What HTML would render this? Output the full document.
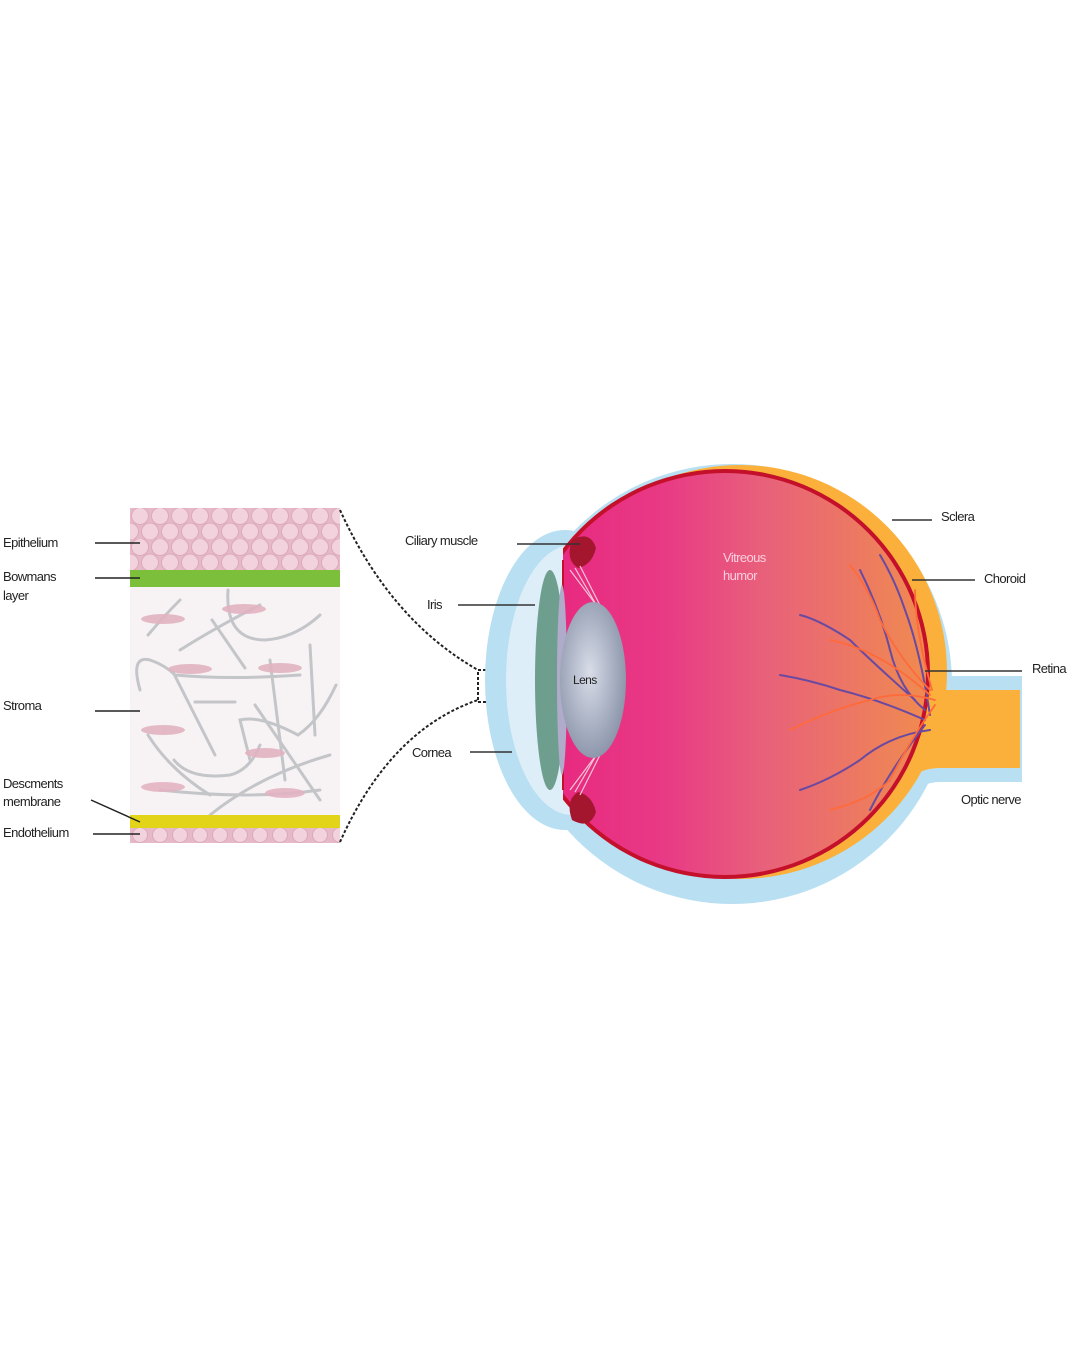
<!DOCTYPE html>
<html><head><meta charset="utf-8"><style>
html,body{margin:0;padding:0;background:#fff;}
svg{display:block;font-family:"Liberation Sans",sans-serif;}
</style></head><body>
<svg width="1080" height="1350" viewBox="0 0 1080 1350" xmlns="http://www.w3.org/2000/svg">
<defs>
<pattern id="cells" x="130" y="508" width="20" height="31" patternUnits="userSpaceOnUse">
<rect width="20" height="31" fill="#e6b9c8"/>
<circle cx="10" cy="8" r="8.5" fill="#f2d3dd" stroke="#dca9bb" stroke-width="1"/>
<circle cx="0" cy="23.5" r="8.5" fill="#f2d3dd" stroke="#dca9bb" stroke-width="1"/>
<circle cx="20" cy="23.5" r="8.5" fill="#f2d3dd" stroke="#dca9bb" stroke-width="1"/>
</pattern>
<pattern id="cells2" x="130" y="826" width="20" height="17" patternUnits="userSpaceOnUse">
<rect width="20" height="17" fill="#e6b9c8"/>
<circle cx="10" cy="9" r="7.5" fill="#f2d3dd" stroke="#dca9bb"/>
</pattern>
<linearGradient id="vit" x1="0" x2="1" y1="0" y2="0">
<stop offset="0" stop-color="#e8247f"/>
<stop offset="0.35" stop-color="#e83a85"/>
<stop offset="0.6" stop-color="#e8617a"/>
<stop offset="1" stop-color="#f08a50"/>
</linearGradient>
<radialGradient id="lens" cx="0.45" cy="0.45" r="0.6">
<stop offset="0" stop-color="#d8dde8"/>
<stop offset="1" stop-color="#8891a8"/>
</radialGradient>
<clipPath id="vc"><rect x="563" y="440" width="400" height="480"/></clipPath>
</defs>

<!-- Left panel -->
<rect x="130" y="508" width="210" height="62" fill="url(#cells)"/>
<rect x="130" y="570" width="210" height="17" fill="#7cbf3a"/>
<rect x="130" y="587" width="210" height="228" fill="#f7f3f4"/>
<g fill="none" stroke="#b8babf" stroke-width="3" stroke-linecap="round" opacity="0.8">
<path d="M148 635 Q165 615 180 600"/>
<path d="M180 650 Q220 625 260 605"/>
<path d="M228 590 Q225 640 265 640 Q295 638 320 615"/>
<path d="M212 620 L245 668"/>
<path d="M140 690 Q130 655 150 660 Q165 665 175 675 Q230 680 300 675"/>
<path d="M173 672 L215 755"/>
<path d="M195 702 L235 702"/>
<path d="M270 660 L285 780"/>
<path d="M310 645 L315 735"/>
<path d="M336 685 Q320 720 298 735 Q260 715 240 720 L250 760"/>
<path d="M148 735 Q170 770 210 795"/>
<path d="M174 760 Q190 780 230 775 Q250 770 260 745"/>
<path d="M210 815 Q260 775 330 755"/>
<path d="M160 790 Q250 800 320 790"/>
<path d="M255 705 L320 800"/>
</g>
<g fill="#e3b3c2" opacity="0.9">
<ellipse cx="163" cy="619" rx="22" ry="5"/>
<ellipse cx="244" cy="609" rx="22" ry="5"/>
<ellipse cx="190" cy="669" rx="22" ry="5"/>
<ellipse cx="280" cy="668" rx="22" ry="5"/>
<ellipse cx="163" cy="730" rx="22" ry="5"/>
<ellipse cx="265" cy="753" rx="20" ry="5"/>
<ellipse cx="163" cy="787" rx="22" ry="5"/>
<ellipse cx="285" cy="793" rx="20" ry="5"/>
</g>
<rect x="130" y="815" width="210" height="13" fill="#e2d419"/>
<rect x="130" y="828" width="210" height="15" fill="url(#cells2)"/>

<!-- dashed connectors -->
<g fill="none" stroke="#222" stroke-width="2" stroke-dasharray="3,2">
<path d="M340 510 Q390 620 478 670"/>
<path d="M340 842 Q390 730 478 700"/>
<rect x="478" y="670" width="28" height="32"/>
</g>

<!-- left labels -->
<g font-size="13" fill="#222" letter-spacing="-0.6">
<text x="3" y="547">Epithelium</text>
<text x="3" y="581">Bowmans</text>
<text x="3" y="600">layer</text>
<text x="3" y="710">Stroma</text>
<text x="3" y="788">Descments</text>
<text x="3" y="806">membrane</text>
<text x="3" y="837">Endothelium</text>
</g>
<g stroke="#222" stroke-width="1.5">
<line x1="95" y1="543" x2="140" y2="543"/>
<line x1="95" y1="578" x2="140" y2="578"/>
<line x1="95" y1="711" x2="140" y2="711"/>
<line x1="91" y1="800" x2="140" y2="822"/>
<line x1="93" y1="834" x2="140" y2="834"/>
</g>

<!-- Eye -->
<path d="M900 676 L1022 676 L1022 782 L940 782 Q920 782 905 800 Z" fill="#b9dff2"/>
<circle cx="732" cy="684" r="220" fill="#b9dff2"/>
<!-- choroid -->
<circle cx="740" cy="672" r="207" fill="#fbb03b"/>
<path d="M900 690 L1020 690 L1020 768 L940 768 Q925 768 915 775 Z" fill="#fbb03b"/>
<ellipse cx="565" cy="680" rx="80" ry="150" fill="#b9dff2"/>
<ellipse cx="572" cy="680" rx="66" ry="135" fill="#ddeef8"/>
<!-- vitreous -->
<g clip-path="url(#vc)">
<circle cx="725" cy="674" r="205" fill="#c4102a"/>
<circle cx="725" cy="674" r="201" fill="url(#vit)"/>
</g>
<line x1="563" y1="560" x2="563" y2="790" stroke="#c4102a" stroke-width="2"/>
<!-- ciliary -->
<path d="M572 540 Q590 530 596 548 Q592 565 578 568 Q565 560 572 540Z" fill="#a3162e"/>
<path d="M572 820 Q590 830 596 812 Q592 795 578 792 Q565 800 572 820Z" fill="#a3162e"/>
<g stroke="#f8c6d6" stroke-width="1.2" fill="none">
<path d="M570 570 L600 610"/><path d="M575 568 L605 620"/><path d="M580 566 L610 625"/>
<path d="M570 790 L600 750"/><path d="M575 792 L605 740"/><path d="M580 795 L610 735"/>
</g>
<!-- iris -->
<ellipse cx="550" cy="680" rx="15" ry="110" fill="#6e9e8e"/>
<ellipse cx="562" cy="680" rx="5" ry="95" fill="#b0aacb"/>
<!-- lens -->
<ellipse cx="593" cy="680" rx="33" ry="78" fill="url(#lens)"/>
<text x="573" y="684" font-size="12" fill="#222" letter-spacing="-0.6">Lens</text>
<!-- vessels -->
<g fill="none" stroke-linecap="round">
<g stroke="#6a4aa0" stroke-width="2">
<path d="M930 730 Q890 735 860 760 Q830 780 800 790"/>
<path d="M925 720 Q880 700 840 690 Q810 680 780 675"/>
<path d="M925 710 Q900 690 890 650 Q880 610 860 570"/>
<path d="M915 700 Q870 660 850 640 Q820 620 800 615"/>
<path d="M925 725 Q890 770 870 810"/>
<path d="M930 715 Q920 650 905 610 Q895 580 880 555"/>
</g>
<g stroke="#ff6a3a" stroke-width="1.8">
<path d="M935 700 Q900 690 870 700 Q830 710 790 730"/>
<path d="M930 690 Q900 660 880 620 Q870 590 850 565"/>
<path d="M935 705 Q910 740 890 780 Q870 800 830 810"/>
<path d="M930 695 Q880 650 830 640"/>
<path d="M932 690 Q915 630 915 590"/>
</g>
</g>
<text x="723" y="562" font-size="13" fill="#ffd0e0" letter-spacing="-0.6">Vitreous</text>
<text x="723" y="580" font-size="13" fill="#ffd0e0" letter-spacing="-0.6">humor</text>

<!-- right labels -->
<g font-size="13" fill="#222" letter-spacing="-0.6">
<text x="405" y="545">Ciliary muscle</text>
<text x="427" y="609">Iris</text>
<text x="412" y="757">Cornea</text>
<text x="941" y="521">Sclera</text>
<text x="984" y="583">Choroid</text>
<text x="1032" y="673">Retina</text>
<text x="961" y="804">Optic nerve</text>
</g>
<g stroke="#333" stroke-width="1.5">
<line x1="517" y1="544" x2="580" y2="544"/>
<line x1="458" y1="605" x2="535" y2="605"/>
<line x1="470" y1="752" x2="512" y2="752"/>
<line x1="892" y1="520" x2="932" y2="520"/>
<line x1="912" y1="580" x2="975" y2="580"/>
<line x1="925" y1="671" x2="1022" y2="671"/>
</g>
</svg>
</body></html>
